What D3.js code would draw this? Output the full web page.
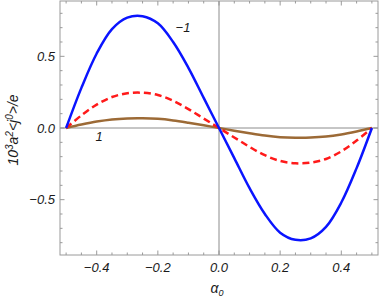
<!DOCTYPE html>
<html>
<head>
<meta charset="utf-8">
<script src="https://cdn.jsdelivr.net/npm/d3@7"></script>
<style>
  body { margin: 0; background: #fff; }
  svg { display: block; font-family: "Liberation Sans", Arial, sans-serif; }
</style>
</head>
<body>
<svg id="chart" width="382" height="300"></svg>
<script>
// alpha_0 sample points
const alpha = [-0.5, -0.45, -0.4, -0.35, -0.3, -0.25, -0.2, -0.15, -0.1, -0.05, 0,
               0.05, 0.1, 0.15, 0.2, 0.25, 0.3, 0.35, 0.4, 0.45, 0.5];
// curve "-1" (blue)
const curveMinus1 = [0, 0.28, 0.52, 0.69, 0.77, 0.78, 0.73, 0.60, 0.42, 0.21, 0,
                     -0.21, -0.42, -0.60, -0.73, -0.78, -0.77, -0.69, -0.52, -0.28, 0];
// middle curve (red, dashed)
const curveMid = [0, 0.088, 0.163, 0.216, 0.242, 0.246, 0.23, 0.19, 0.132, 0.066, 0,
                  -0.066, -0.132, -0.19, -0.23, -0.246, -0.242, -0.216, -0.163, -0.088, 0];
// curve "1" (brown)
const curvePlus1 = [0, 0.024, 0.045, 0.06, 0.067, 0.068, 0.064, 0.053, 0.037, 0.019, 0,
                    -0.019, -0.037, -0.053, -0.064, -0.068, -0.067, -0.06, -0.045, -0.024, 0];

const xTicks = [-0.4, -0.2, 0.0, 0.2, 0.4];
const yTicks = [-0.5, 0.0, 0.5];

const svg = d3.select('#chart');
const mLeft = 60, mRight = 378, mTop = 1, mBottom = 255;

const x = d3.scaleLinear().domain([-0.52, 0.52]).range([mLeft, mRight]);
const y = d3.scaleLinear().domain([-0.886, 0.886]).range([mBottom, mTop]);

const frameColor = '#9a9a9a';
const fmt = d => d3.format('.1f')(d).replace('-', '\u2212');

// minor ticks
const xMinor = d3.range(-0.5, 0.5001, 0.05);
const yMinor = d3.range(-0.8, 0.8001, 0.1);

const ax = svg.append('g');

function tickLen(v, step) { return Math.abs(Math.round(v / step) - v / step) < 1e-6 ? 4.5 : 2.5; }

xMinor.forEach(v => {
  const len = tickLen(v, 0.2);
  ax.append('line').attr('x1', x(v)).attr('x2', x(v)).attr('y1', mBottom).attr('y2', mBottom - len)
    .attr('stroke', frameColor).attr('stroke-width', 1);
  ax.append('line').attr('x1', x(v)).attr('x2', x(v)).attr('y1', mTop).attr('y2', mTop + len)
    .attr('stroke', frameColor).attr('stroke-width', 1);
});
yMinor.forEach(v => {
  const len = tickLen(v, 0.5);
  ax.append('line').attr('y1', y(v)).attr('y2', y(v)).attr('x1', mLeft).attr('x2', mLeft + len)
    .attr('stroke', frameColor).attr('stroke-width', 1);
  ax.append('line').attr('y1', y(v)).attr('y2', y(v)).attr('x1', mRight).attr('x2', mRight - len)
    .attr('stroke', frameColor).attr('stroke-width', 1);
});

// zero axes
ax.append('line').attr('x1', mLeft).attr('x2', mRight).attr('y1', y(0)).attr('y2', y(0))
  .attr('stroke', '#8c8c8c').attr('stroke-width', 1);
ax.append('line').attr('x1', x(0)).attr('x2', x(0)).attr('y1', mTop).attr('y2', mBottom)
  .attr('stroke', '#8c8c8c').attr('stroke-width', 1);

// frame
ax.append('rect').attr('x', mLeft).attr('y', mTop).attr('width', mRight - mLeft).attr('height', mBottom - mTop)
  .attr('fill', 'none').attr('stroke', frameColor).attr('stroke-width', 1);

// tick labels
xTicks.forEach(v => {
  ax.append('text').attr('x', x(v)).attr('y', mBottom + 17)
    .attr('text-anchor', 'middle').attr('font-size', 13).attr('font-style', 'italic')
    .attr('fill', '#1a1a1a').text(fmt(v));
});
yTicks.forEach(v => {
  ax.append('text').attr('x', mLeft - 5).attr('y', y(v) + 4.5)
    .attr('text-anchor', 'end').attr('font-size', 13).attr('font-style', 'italic')
    .attr('fill', '#1a1a1a').text(fmt(v));
});

// axis titles
ax.append('text').attr('x', x(0) - 2).attr('y', 293)
  .attr('text-anchor', 'middle').attr('font-size', 14).attr('font-style', 'italic')
  .attr('fill', '#1a1a1a')
  .html('\u03b1<tspan font-size="9" dy="3">0</tspan>');

ax.append('text').attr('transform', `translate(18, ${y(0) + 2}) rotate(-90)`)
  .attr('text-anchor', 'middle').attr('font-size', 14).attr('font-style', 'italic')
  .attr('fill', '#1a1a1a')
  .html('10<tspan font-size="10" dy="-5">3</tspan><tspan dy="5">a</tspan><tspan font-size="10" dy="-5">2</tspan><tspan dy="5">&lt;j</tspan><tspan font-size="10" dy="-5">0</tspan><tspan dy="5">&gt;/e</tspan>');

// curves
const line = vals => d3.line()
  .x((d, i) => x(alpha[i]))
  .y(d => y(d))
  .curve(d3.curveCatmullRom.alpha(0.5))(vals);

const plot = svg.append('g');
plot.append('path').attr('d', line(curvePlus1)).attr('fill', 'none')
  .attr('stroke', '#9c6a36').attr('stroke-width', 2.5);
plot.append('path').attr('d', line(curveMid)).attr('fill', 'none')
  .attr('stroke', '#ff1a1a').attr('stroke-width', 2.5).attr('stroke-dasharray', '7,4');
plot.append('path').attr('d', line(curveMinus1)).attr('fill', 'none')
  .attr('stroke', '#0a14ff').attr('stroke-width', 2.5);

// curve labels
plot.append('text').attr('x', 183).attr('y', 32).attr('text-anchor', 'middle')
  .attr('font-size', 13).attr('font-style', 'italic').attr('fill', '#1a1a1a').text('\u22121');
plot.append('text').attr('x', 99).attr('y', 141).attr('text-anchor', 'middle')
  .attr('font-size', 13).attr('font-style', 'italic').attr('fill', '#1a1a1a').text('1');
</script>
</body>
</html>
